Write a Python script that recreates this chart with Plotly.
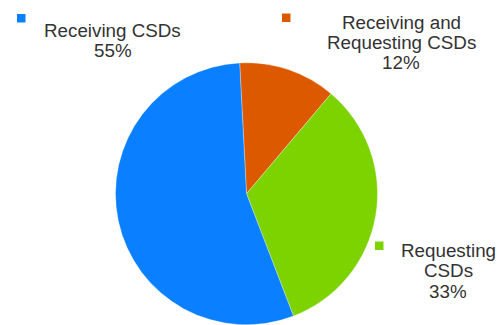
import plotly.graph_objects as go

# Share of CSDs by role
categories = ["Receiving and Requesting CSDs", "Requesting CSDs", "Receiving CSDs"]
values = [12, 33, 55]
colors = ["#DD5900", "#7DD300", "#0A7FFF"]

# Label lines for each slice (the percentage line is appended from values)
label_lines = [["Receiving and", "Requesting CSDs"], ["Requesting", "CSDs"], ["Receiving CSDs"]]

W, H = 502, 325

fig = go.Figure(
    go.Pie(
        labels=categories,
        values=values,
        marker=dict(colors=colors, line=dict(color="rgba(255,255,255,0.5)", width=0.6)),
        sort=False,
        direction="clockwise",
        rotation=-3,
        textinfo="none",
        hoverinfo="label+percent",
        showlegend=False,
        domain=dict(x=[115.5 / W, 377.5 / W], y=[0, (H - 62.5) / H]),
    )
)

# label placement in pixels: (text center x, first line center y, line step, marker x, marker y)
label_pos = [
    (401, 22.2, 20.3, 282, 13.5),
    (448, 250, 20.8, 375, 241.5),
    (112.5, 30.8, 19.2, 17, 14),
]

total = sum(values)
annotations = []
shapes = []
for lines, v, c, (cx, cy, step, mx, my) in zip(label_lines, values, colors, label_pos):
    pct = f"{round(100 * v / total)}%"
    for i, t in enumerate(lines + [pct]):
        annotations.append(
            dict(
                x=cx / W, y=1 - (cy + i * step) / H,
                xref="paper", yref="paper",
                xanchor="center", yanchor="middle",
                text=t, showarrow=False,
                font=dict(family="Liberation Sans, Arial, sans-serif", size=18.8, color="#333333"),
            )
        )
    shapes.append(
        dict(
            type="rect", xref="paper", yref="paper",
            x0=mx / W, x1=(mx + 8.5) / W, y0=1 - (my + 8.5) / H, y1=1 - my / H,
            fillcolor=c, line=dict(width=0),
        )
    )

fig.update_layout(
    width=W, height=H,
    margin=dict(l=0, r=0, t=0, b=0),
    paper_bgcolor="white", plot_bgcolor="white",
    annotations=annotations, shapes=shapes,
)

fig.write_html("out.html")
